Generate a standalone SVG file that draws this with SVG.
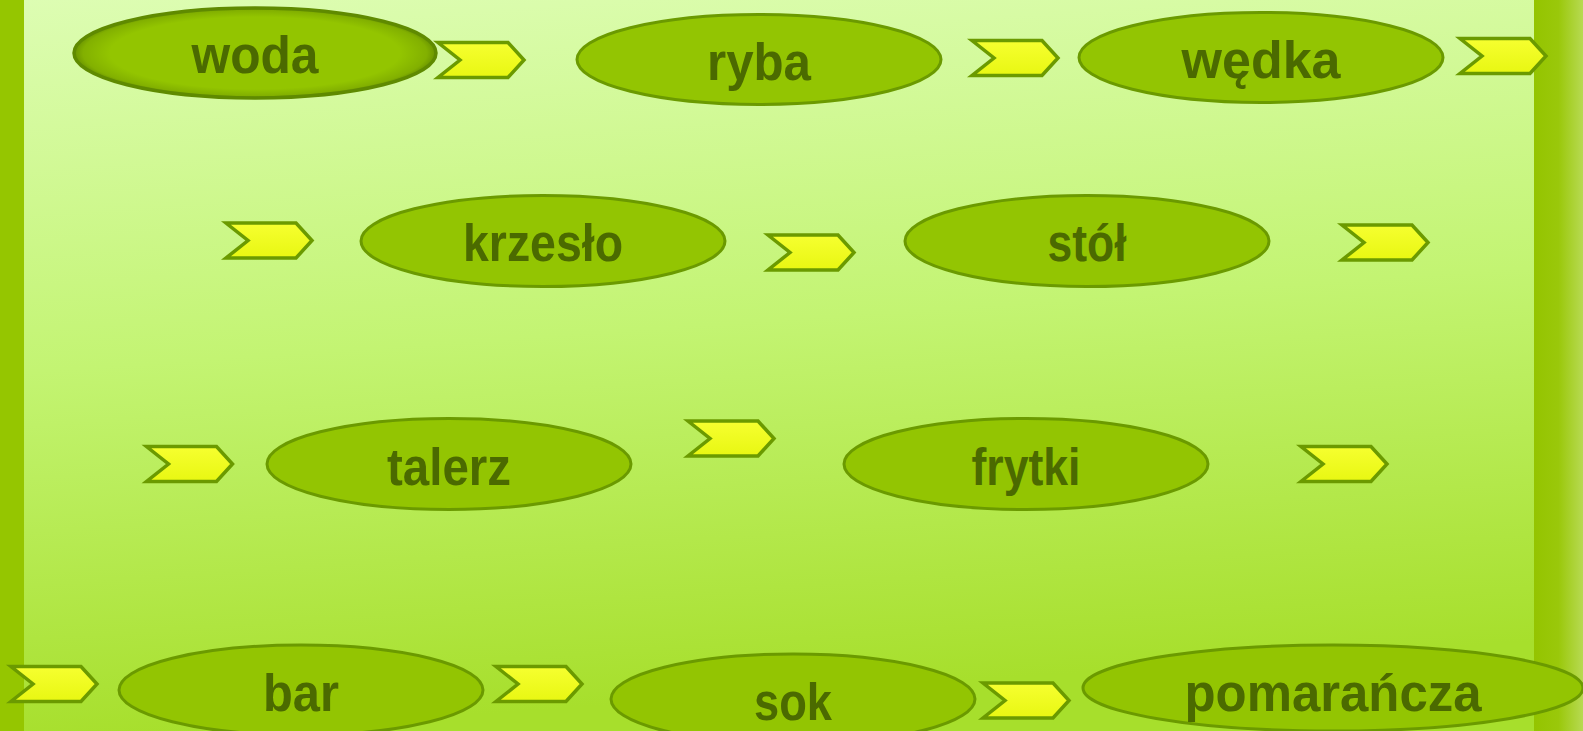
<svg xmlns="http://www.w3.org/2000/svg" width="1583" height="731" viewBox="0 0 1583 731">
<defs>
<linearGradient id="bg" x1="0" y1="0" x2="0.15" y2="1">
<stop offset="0" stop-color="#ddfdb3"/>
<stop offset="0.5" stop-color="#c3f472"/>
<stop offset="1" stop-color="#a7df2c"/>
</linearGradient>
<linearGradient id="rbar" x1="0" y1="0" x2="1" y2="0">
<stop offset="0" stop-color="#94c400"/>
<stop offset="0.5" stop-color="#9ac80a"/>
<stop offset="1" stop-color="#b7da52"/>
</linearGradient>
<linearGradient id="chev" x1="0" y1="0" x2="0" y2="1">
<stop offset="0" stop-color="#f6ff30"/>
<stop offset="1" stop-color="#e8f712"/>
</linearGradient>
<radialGradient id="sel" cx="0.5" cy="0.5" r="0.5">
<stop offset="0.8" stop-color="#93c500"/>
<stop offset="0.95" stop-color="#82b000"/>
<stop offset="1" stop-color="#6a9400"/>
</radialGradient>
<path id="cv" d="M0,0 L70,0 L86,17.5 L70,35 L0,35 L22,17.5 Z"/>
</defs>
<style>
.n{fill:#93c502;stroke:#6b9a00;stroke-width:3}
.s{fill:url(#sel);stroke:#5f8a00;stroke-width:3.5}
.t{font-family:"Liberation Sans",Arial,sans-serif;font-weight:bold;font-size:51px;fill:#4b6a00;text-anchor:middle}
.c{fill:url(#chev);stroke:#6b9a00;stroke-width:3.5;stroke-linejoin:miter}
</style>
<rect x="0" y="0" width="1583" height="731" fill="url(#bg)"/>
<rect x="0" y="0" width="24" height="731" fill="#95c600"/>
<rect x="1534" y="0" width="49" height="731" fill="url(#rbar)"/>

<g id="node-woda">
<ellipse class="s" cx="255" cy="53" rx="181" ry="45"/>
<text class="t" x="255" y="73" textLength="127" lengthAdjust="spacingAndGlyphs">woda</text>
</g>
<g id="node-ryba">
<ellipse class="n" cx="759" cy="59.5" rx="182" ry="45"/>
<text class="t" x="759" y="80" textLength="104" lengthAdjust="spacingAndGlyphs">ryba</text>
</g>
<g id="node-wedka">
<ellipse class="n" cx="1261" cy="57.5" rx="182" ry="45"/>
<text class="t" x="1261" y="78" textLength="159" lengthAdjust="spacingAndGlyphs">wędka</text>
</g>
<g id="node-krzeslo">
<ellipse class="n" cx="543" cy="241" rx="182" ry="45.5"/>
<text class="t" x="543" y="261" textLength="160" lengthAdjust="spacingAndGlyphs">krzesło</text>
</g>
<g id="node-stol">
<ellipse class="n" cx="1087" cy="241" rx="182" ry="45.5"/>
<text class="t" x="1087" y="260.5" textLength="79" lengthAdjust="spacingAndGlyphs">stół</text>
</g>
<g id="node-talerz">
<ellipse class="n" cx="449" cy="464" rx="182" ry="45.5"/>
<text class="t" x="449" y="485" textLength="124" lengthAdjust="spacingAndGlyphs">talerz</text>
</g>
<g id="node-frytki">
<ellipse class="n" cx="1026" cy="464" rx="182" ry="45.5"/>
<text class="t" x="1026" y="485" textLength="109" lengthAdjust="spacingAndGlyphs">frytki</text>
</g>
<g id="node-bar">
<ellipse class="n" cx="301" cy="690" rx="182" ry="45"/>
<text class="t" x="301" y="711" textLength="76" lengthAdjust="spacingAndGlyphs">bar</text>
</g>
<g id="node-sok">
<ellipse class="n" cx="793" cy="699" rx="182" ry="45"/>
<text class="t" x="793" y="720" textLength="78" lengthAdjust="spacingAndGlyphs">sok</text>
</g>
<g id="node-pomarancza">
<ellipse class="n" cx="1333" cy="688" rx="250" ry="43"/>
<text class="t" x="1333" y="711" textLength="297" lengthAdjust="spacingAndGlyphs">pomarańcza</text>
</g>

<g id="connectors">
<use href="#cv" class="c" x="438" y="42.5"/>
<use href="#cv" class="c" x="972" y="40.5"/>
<use href="#cv" class="c" x="1460" y="38.5"/>
<use href="#cv" class="c" x="226" y="223"/>
<use href="#cv" class="c" x="768" y="235"/>
<use href="#cv" class="c" x="1342" y="225"/>
<use href="#cv" class="c" x="146.5" y="446.5"/>
<use href="#cv" class="c" x="688" y="421"/>
<use href="#cv" class="c" x="1301" y="446.5"/>
<use href="#cv" class="c" x="11" y="666.5"/>
<use href="#cv" class="c" x="496" y="666.5"/>
<use href="#cv" class="c" x="983" y="683"/>
</g>
</svg>
